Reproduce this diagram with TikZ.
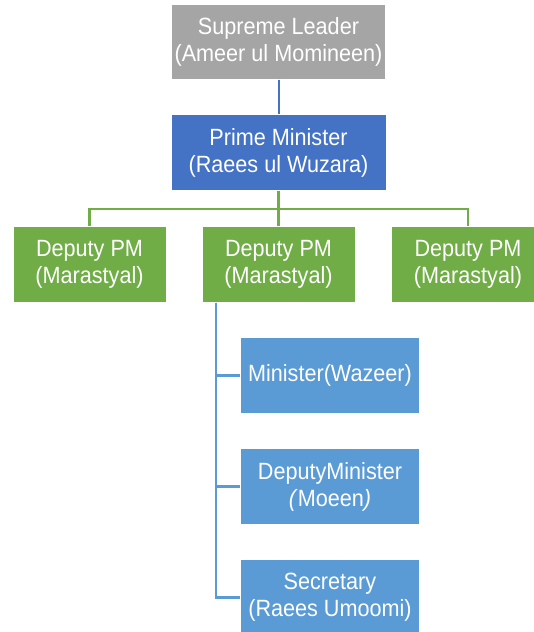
\documentclass[tikz,border=0pt]{standalone}
\usepackage{fontspec}
\setmainfont{Liberation Sans}[FakeStretch=0.92]
\definecolor{leadergray}{HTML}{A5A5A5}
\definecolor{pmblue}{HTML}{4472C4}
\definecolor{deputygreen}{HTML}{70AD47}
\definecolor{ministerblue}{HTML}{5B9BD5}
\begin{document}
\begin{tikzpicture}[x=1pt,y=-1pt,
	orgbox/.style={rectangle, text=white, align=center, inner sep=0pt, draw=white, line width=0.6pt,
		font=\fontsize{23.5}{27}\selectfont},
	leaderbox/.style={orgbox, fill=leadergray, minimum width=214pt, minimum height=75pt},
	pmbox/.style={orgbox, fill=pmblue, minimum width=215pt, minimum height=76pt},
	deputybox/.style={orgbox, fill=deputygreen, minimum width=153pt, minimum height=76pt},
	ministerbox/.style={orgbox, fill=ministerblue, minimum width=179pt, minimum height=76pt},
	pmlink/.style={draw=pmblue, line width=2pt},
	deputylink/.style={draw=deputygreen, line width=2.5pt},
	ministerlink/.style={draw=ministerblue, line width=2.5pt}]
	\useasboundingbox (0,0) rectangle (534,632);
	\clip (0,0) rectangle (534,632);
	% top of the tree
	\node[leaderbox] (leader) at (278.5,42) {Supreme Leader\\(Ameer ul Momineen)};
	\node[pmbox] (pm) at (278.5,152.5) {Prime Minister\\(Raees ul Wuzara)};
	% deputies
	\node[deputybox] (depL) at (89.5,264.5) {Deputy PM\\(Marastyal)};
	\node[deputybox] (depM) at (278.5,264.5) {Deputy PM\\(Marastyal)};
	\node[deputybox] (depR) at (468,264.5) {Deputy PM\\(Marastyal)};
	% ministers under the middle deputy
	\node[ministerbox] (min) at (330,375.5) {Minister(Wazeer)};
	\node[ministerbox] (dmin) at (330,486.5) {DeputyMinister\\\textit{(}Moeen\textit{)}};
	\node[ministerbox] (sec) at (330,597.5) {Secretary\\(Raees Umoomi)};
	% connectors
	\draw[pmlink] (leader) -- (pm);
	\draw[deputylink] (pm.south) -- ++(0,18) -| (depL.north);
	\draw[deputylink] (pm.south) -- ++(0,18) -| (depR.north);
	\draw[deputylink] (pm.south) -- (depM.north);
	\coordinate (trunk) at (216,302.5);
	\draw[ministerlink] (trunk) |- (min.west);
	\draw[ministerlink] (trunk) |- (dmin.west);
	\draw[ministerlink] (trunk) |- (sec.west);
\end{tikzpicture}
\end{document}
